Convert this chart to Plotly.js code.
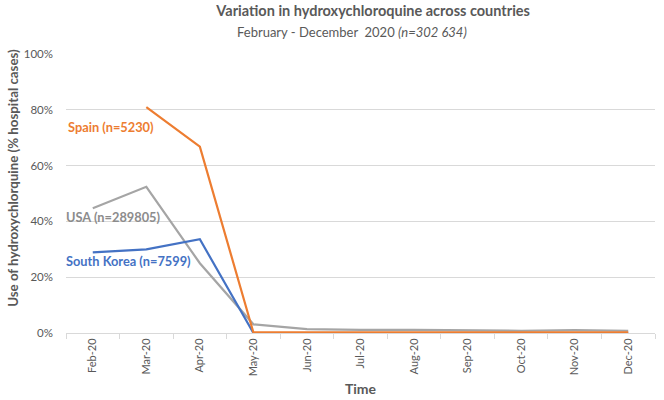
<!DOCTYPE html>
<html><head><meta charset="utf-8">
<script src="https://cdn.plot.ly/plotly-3.0.1.min.js"></script>
<style>html,body{margin:0;padding:0;background:#fff}#c{width:664px;height:400px}</style>
</head><body><div id="c"></div>
<script>
const months = ["Feb-20","Mar-20","Apr-20","May-20","Jun-20","Jul-20","Aug-20","Sep-20","Oct-20","Nov-20","Dec-20"];
const spain = [null, 0.81, 0.668, 0.002, 0.002, 0.002, 0.002, 0.002, 0.002, 0.002, 0.002];
const usa = [0.447, 0.524, 0.25, 0.031, 0.014, 0.011, 0.011, 0.009, 0.008, 0.010, 0.008];
const korea = [0.289, 0.30, 0.336, 0.0, 0.0, 0.0, 0.0, 0.0, 0.0, 0.0, 0.0];
const seriesLabels = ["Spain (n=5230)", "USA (n=289805)", "South Korea (n=7599)"];
const colors = ["#ED7D31", "#A5A5A5", "#4472C4"];
const F = "Lato, 'Open Sans', sans-serif";

const traces = [
  {x: months, y: usa, name: seriesLabels[1], line: {color: colors[1], width: 2.2}},
  {x: months, y: korea, name: seriesLabels[2], line: {color: colors[2], width: 2.2}},
  {x: months, y: spain, name: seriesLabels[0], line: {color: colors[0], width: 2.2}}
].map(t => Object.assign({type: "scatter", mode: "lines", hoverinfo: "skip"}, t));

const layout = {
  width: 664, height: 400,
  margin: {l: 66, r: 9, t: 54, b: 67},
  showlegend: false,
  paper_bgcolor: "#fff", plot_bgcolor: "#fff",
  font: {family: F, color: "#595959"},
  xaxis: {
    type: "category", range: [-0.5, 10.5], tickangle: -90,
    tickson: "boundaries", ticks: "outside", ticklen: 5, tickcolor: "#D9D9D9",
    showline: true, linecolor: "#D9D9D9", linewidth: 1, showgrid: false,
    tickfont: {size: 11, color: "#595959", family: F},
    title: {text: "<b>Time</b>", font: {size: 14, color: "#595959", family: F}, standoff: 8}
  },
  yaxis: {
    range: [0, 1], tickvals: [0, 0.2, 0.4, 0.6, 0.8, 1.0], tickformat: ".0%",
    gridcolor: "#D9D9D9", gridwidth: 1, zeroline: false, showline: false,
    tickfont: {size: 11.5, color: "#595959", family: F}, ticks: "", ticklen: 0, ticklabelstandoff: 12
  },
  annotations: [
    {xref: "paper", yref: "paper", x: -0.09, y: 0.556, xanchor: "center", yanchor: "middle", textangle: -90, text: "<b>Use of hydroxychlorquine (% hospital cases)</b>", showarrow: false, font: {size: 13.3, color: "#595959", family: F}},
    {xref: "paper", yref: "paper", x: 0.0, y: 0.74, xanchor: "left", yanchor: "middle", text: "<b>" + seriesLabels[0] + "</b>", showarrow: false, font: {size: 12.8, color: colors[0], family: F}},
    {xref: "paper", yref: "paper", x: -0.003, y: 0.415, xanchor: "left", yanchor: "middle", text: "<b>" + seriesLabels[1] + "</b>", showarrow: false, font: {size: 12.8, color: "#8C8C8C", family: F}},
    {xref: "paper", yref: "paper", x: -0.003, y: 0.258, xanchor: "left", yanchor: "middle", text: "<b>" + seriesLabels[2] + "</b>", showarrow: false, font: {size: 12.8, color: colors[2], family: F}},
    {xref: "paper", yref: "paper", x: 0.486, y: 1.078, xanchor: "center", yanchor: "middle", text: "February - December  2020 <i>(n=302 634)</i>", showarrow: false, font: {size: 13, color: "#595959", family: F}}
  ],
  title: {text: "<b>Variation in hydroxychloroquine across countries</b>", x: 0.562, xanchor: "center", y: 0.972, yanchor: "middle", font: {size: 14.5, color: "#595959", family: F}}
};
Plotly.newPlot("c", traces, layout, {displayModeBar: false, staticPlot: true});
</script></body></html>
